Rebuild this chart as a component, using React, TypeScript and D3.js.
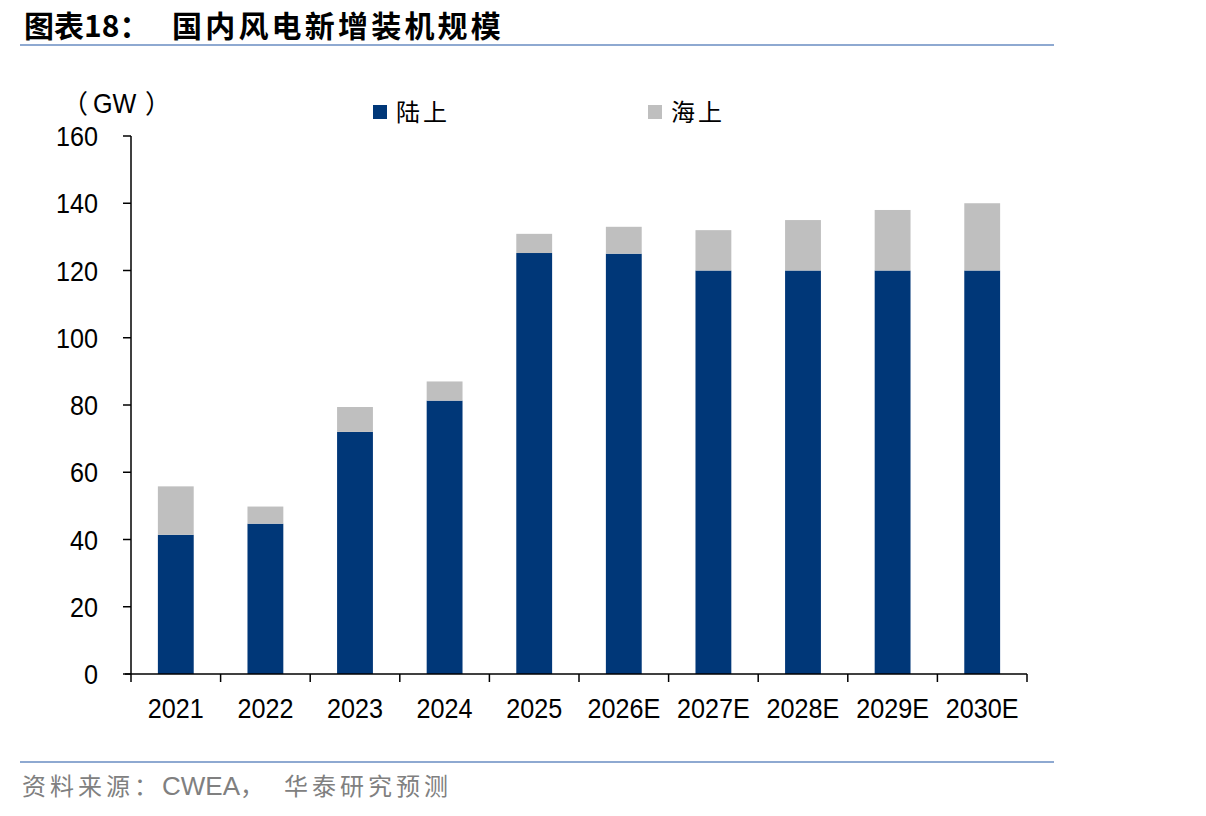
import React from 'react';
import * as d3 from 'd3';

// Annual new wind installations in China (GW)
const categories = ['2021', '2022', '2023', '2024', '2025', '2026E', '2027E', '2028E', '2029E', '2030E'];
const onshore = [41.4, 44.7, 72.0, 81.3, 125.2, 125.0, 120.0, 120.0, 120.0, 120.0];
const offshore = [14.4, 5.1, 7.4, 5.7, 5.7, 8.0, 12.0, 15.0, 18.0, 20.0];
const yTicks = [0, 20, 40, 60, 80, 100, 120, 140, 160];
const seriesNames = ['陆上', '海上'];
const seriesColors = ['#003778', '#BFBFBF'];

const W = 1206;
const H = 816;
const plot = { left: 131, right: 1027, top: 136, bottom: 674 };
const latin = '"Liberation Sans", Arial, sans-serif';
const cjk = '"Noto Sans CJK SC", "Noto Sans", sans-serif';
const ruleColor = '#8EA9D1';

export default function App() {
  const x = d3
    .scaleBand<string>()
    .domain(categories)
    .range([plot.left, plot.right])
    .paddingInner(0.6)
    .paddingOuter(0.3);
  const y = d3.scaleLinear().domain([0, 160]).range([plot.bottom, plot.top]);

  const rows = categories.map((c, i) => ({ cat: c, on: onshore[i], off: offshore[i] }));
  const stacked = d3.stack<any>().keys(['on', 'off'])(rows);

  const step = x.step();
  const boundaries = d3.range(categories.length + 1).map((i) => plot.left + i * step);

  return (
    <svg
      width={W}
      height={H}
      viewBox={`0 0 ${W} ${H}`}
      style={{ position: 'absolute', left: 0, top: 0, background: '#fff' }}
    >
      {/* heading */}
      <text x={24} y={37} fontFamily={cjk} fontWeight={700} fontSize={30} fill="#000">
        图表18：
      </text>
      <text x={172} y={37} fontFamily={cjk} fontWeight={700} fontSize={30} letterSpacing={3.2} fill="#000">
        国内风电新增装机规模
      </text>
      <line x1={20} x2={1054} y1={45} y2={45} stroke={ruleColor} strokeWidth={2} />

      {/* unit */}
      <g fill="#000" fontSize={26}>
        <text x={62} y={113} fontFamily={cjk}>（</text>
        <text transform="translate(93,113) scale(0.9,1)" fontFamily={latin} fontSize={28}>GW</text>
        <text x={145} y={113} fontFamily={cjk}>）</text>
      </g>

      {/* legend */}
      {seriesNames.map((name, i) => {
        const lx = i === 0 ? 373 : 648;
        return (
          <g key={name}>
            <rect x={lx} y={105} width={14} height={14} fill={seriesColors[i]} />
            <text x={lx + 23} y={121} fontFamily={cjk} fontSize={24} letterSpacing={3} fill="#000">
              {name}
            </text>
          </g>
        );
      })}

      {/* bars */}
      {stacked.map((layer, si) => (
        <g key={si} fill={seriesColors[si]}>
          {layer.map((d: any, i: number) => (
            <rect
              key={i}
              x={x(categories[i])}
              y={y(d[1])}
              width={x.bandwidth()}
              height={y(d[0]) - y(d[1])}
            />
          ))}
        </g>
      ))}

      {/* y axis */}
      <line x1={plot.left} x2={plot.left} y1={plot.top} y2={plot.bottom} stroke="#000" strokeWidth={1.5} />
      {yTicks.map((t) => (
        <g key={t}>
          <line x1={plot.left - 8} x2={plot.left} y1={y(t)} y2={y(t)} stroke="#000" strokeWidth={1.5} />
          <text
            transform={`translate(98,${y(t) + 10}) scale(0.9,1)`}
            textAnchor="end"
            fontFamily={latin}
            fontSize={28}
            fill="#000"
          >
            {t}
          </text>
        </g>
      ))}

      {/* x axis */}
      <line x1={plot.left - 6} x2={plot.right} y1={plot.bottom} y2={plot.bottom} stroke="#000" strokeWidth={1.5} />
      {boundaries.map((bx, i) => (
        <line key={i} x1={bx} x2={bx} y1={plot.bottom} y2={plot.bottom + 8} stroke="#000" strokeWidth={1.5} />
      ))}
      {categories.map((c) => (
        <text
          key={c}
          transform={`translate(${(x(c) as number) + x.bandwidth() / 2},718) scale(0.9,1)`}
          textAnchor="middle"
          fontFamily={latin}
          fontSize={28}
          fill="#000"
        >
          {c}
        </text>
      ))}

      {/* source */}
      <line x1={20} x2={1054} y1={762} y2={762} stroke={ruleColor} strokeWidth={2} />
      <text x={22} y={795} fontFamily={cjk} fontSize={24} letterSpacing={4} fill="#808080">
        资料来源：
      </text>
      <text x={162} y={795} fontFamily={latin} fontSize={26} fill="#808080">
        CWEA
      </text>
      <text x={240} y={795} fontFamily={cjk} fontSize={24} fill="#808080">
        ，
      </text>
      <text x={284} y={795} fontFamily={cjk} fontSize={24} letterSpacing={4} fill="#808080">
        华泰研究预测
      </text>
    </svg>
  );
}
